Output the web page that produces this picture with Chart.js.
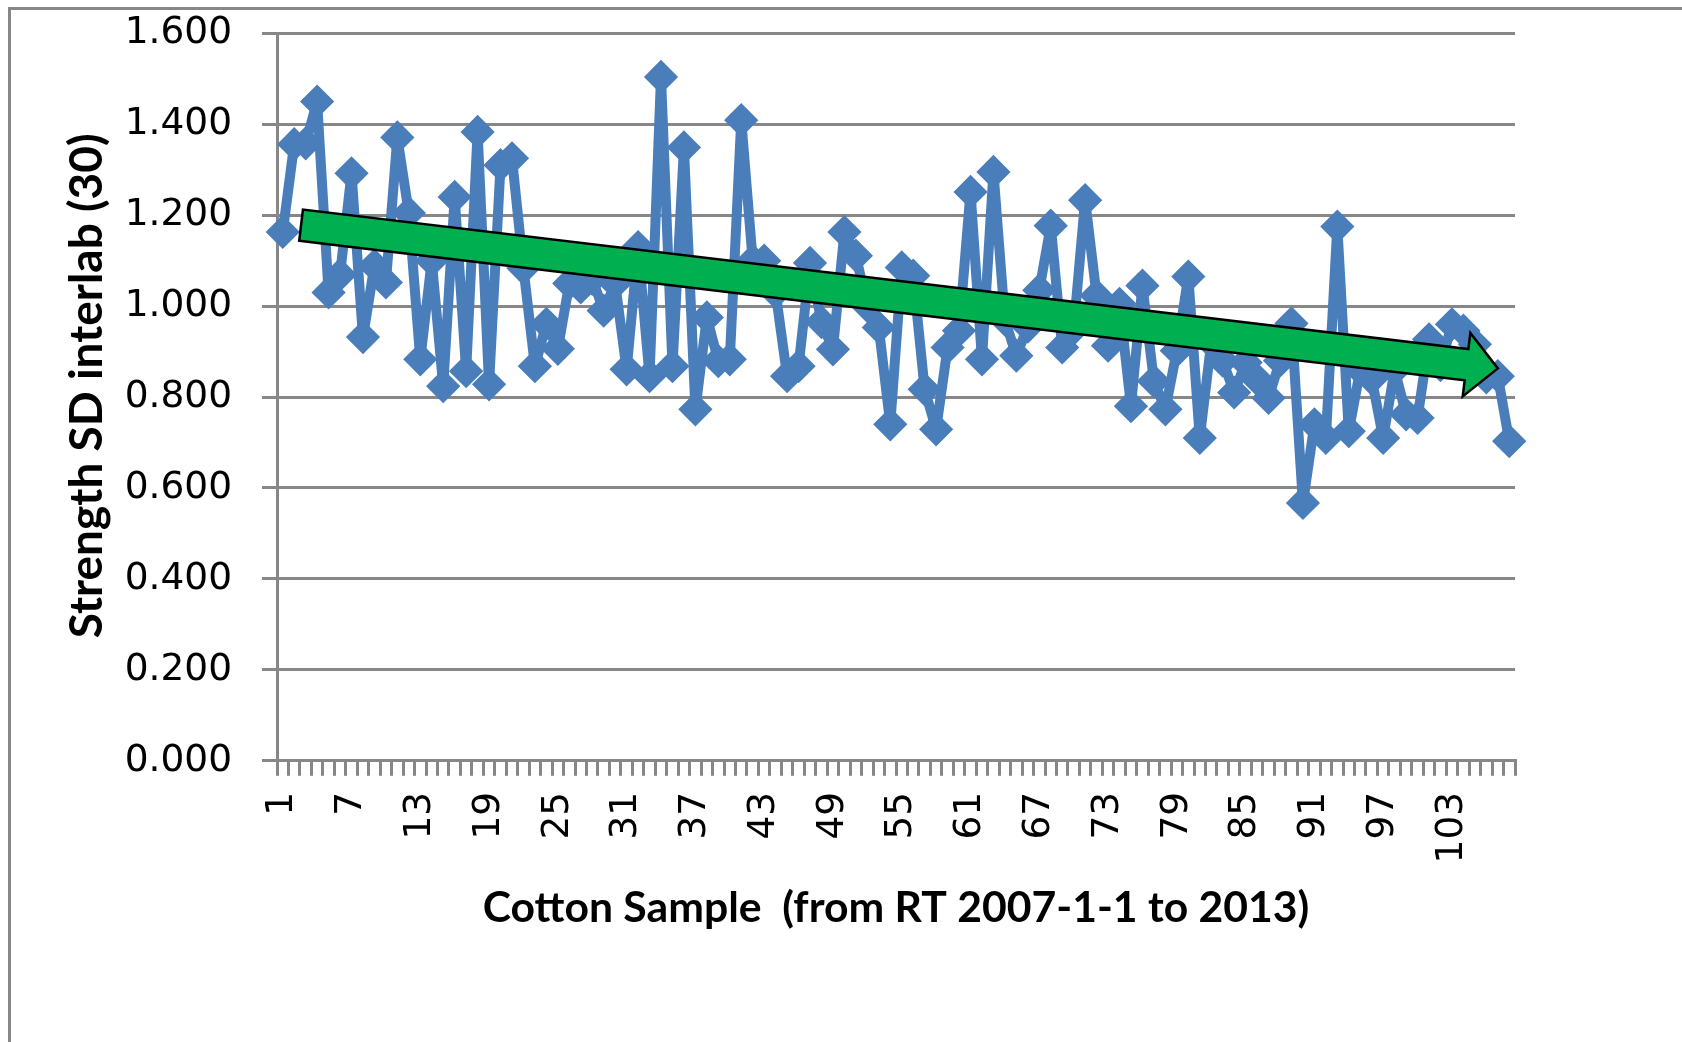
<!DOCTYPE html>
<html>
<head>
<meta charset="utf-8">
<script src="https://cdn.jsdelivr.net/npm/chart.js@4.4.1/dist/chart.umd.min.js"></script>
<style>
  html, body { margin: 0; padding: 0; background: #ffffff; }
  #wrap { position: relative; width: 1682px; height: 1042px; }
</style>
</head>
<body>
<div id="wrap"><canvas id="sdchart"></canvas></div>
<script>
// cotton samples, RT 2007-1-1 .. 2013
const samples = [
    '1','2','3','4','5','6','7','8','9','10','11','12',
    '13','14','15','16','17','18','19','20','21','22','23','24',
    '25','26','27','28','29','30','31','32','33','34','35','36',
    '37','38','39','40','41','42','43','44','45','46','47','48',
    '49','50','51','52','53','54','55','56','57','58','59','60',
    '61','62','63','64','65','66','67','68','69','70','71','72',
    '73','74','75','76','77','78','79','80','81','82','83','84',
    '85','86','87','88','89','90','91','92','93','94','95','96',
    '97','98','99','100','101','102','103','104','105','106','107','108'
];

// strength SD interlab (30)
const strengthSD = [
    1.163, 1.356, 1.358, 1.450, 1.030, 1.069, 1.292, 0.932, 1.089, 1.052, 1.371, 1.205,
    0.883, 1.100, 0.824, 1.240, 0.857, 1.383, 0.828, 1.310, 1.325, 1.083, 0.868, 0.961,
    0.906, 1.050, 1.041, 1.060, 0.990, 1.050, 0.861, 1.130, 0.846, 1.504, 0.868, 1.349,
    0.773, 0.975, 0.879, 0.883, 1.409, 1.100, 1.100, 1.030, 0.846, 0.868, 1.095, 0.965,
    0.905, 1.163, 1.111, 1.000, 0.953, 0.740, 1.085, 1.067, 0.817, 0.729, 0.909, 0.946,
    1.251, 0.883, 1.295, 0.970, 0.891, 0.955, 1.035, 1.177, 0.909, 0.950, 1.233, 1.023,
    0.913, 1.005, 0.780, 1.045, 0.835, 0.773, 0.902, 1.065, 0.710, 0.920, 0.880, 0.810,
    0.876, 0.839, 0.798, 0.880, 0.962, 0.567, 0.740, 0.710, 1.175, 0.725, 0.860, 0.840,
    0.710, 0.860, 0.762, 0.754, 0.927, 0.870, 0.960, 0.946, 0.916, 0.843, 0.846, 0.703
];

// only every 6th sample is labelled on the axis
const xTickLabels = ['1','7','13','19','25','31','37','43','49','55','61','67','73','79','85','91','97','103'];
const yTicks = [0, 0.2, 0.4, 0.6, 0.8, 1.0, 1.2, 1.4, 1.6];

// hand-drawn trend arrow, ends given in (sample index, value)
const trendArrow = { from: [1.6, 1.178], to: [106.0, 0.863] };

const GRID = '#878787';
const BLUE = '#4A7EBB';

const frameBorder = {
    id: 'frameBorder',
    beforeDraw(chart) {
        const c = chart.ctx;
        c.save();
        c.strokeStyle = GRID;
        c.lineWidth = 3;
        c.strokeRect(9.5, 8.5, chart.width + 50, chart.height + 50);
        c.restore();
    }
};

const arrowPlugin = {
    id: 'arrowPlugin',
    afterDatasetsDraw(chart) {
        const xs = chart.scales.x, ys = chart.scales.y;
        const x0 = xs.getPixelForValue(trendArrow.from[0]), y0 = ys.getPixelForValue(trendArrow.from[1]);
        const x1 = xs.getPixelForValue(trendArrow.to[0]), y1 = ys.getPixelForValue(trendArrow.to[1]);
        const len = Math.hypot(x1 - x0, y1 - y0);
        const ux = (x1 - x0) / len, uy = (y1 - y0) / len;
        const nx = -uy, ny = ux;
        const shaft = 15.7, head = 32, headLen = 31.5;
        const bx = x1 - ux * headLen, by = y1 - uy * headLen;
        const c = chart.ctx;
        c.save();
        c.beginPath();
        c.moveTo(x0 + nx * shaft, y0 + ny * shaft);
        c.lineTo(bx + nx * shaft, by + ny * shaft);
        c.lineTo(bx + nx * head, by + ny * head);
        c.lineTo(x1, y1);
        c.lineTo(bx - nx * head, by - ny * head);
        c.lineTo(bx - nx * shaft, by - ny * shaft);
        c.lineTo(x0 - nx * shaft, y0 - ny * shaft);
        c.closePath();
        c.fillStyle = '#00B050';
        c.fill();
        c.lineWidth = 2.5;
        c.lineJoin = 'miter';
        c.strokeStyle = '#000000';
        c.stroke();
        c.restore();
    }
};

const ctx = document.getElementById('sdchart').getContext('2d');
const sdChart = new Chart(ctx, {
    type: 'line',
    data: {
        labels: samples,
        datasets: [{
            label: 'Strength SD interlab (30)',
            data: strengthSD,
            borderColor: BLUE,
            backgroundColor: BLUE,
            borderWidth: 10,
            borderJoinStyle: 'round',
            tension: 0,
            pointStyle: 'rectRot',
            pointRadius: 15,
            pointBorderWidth: 3,
            pointBackgroundColor: BLUE,
            pointBorderColor: BLUE
        }]
    },
    options: {
        responsive: true,
        maintainAspectRatio: false,
        animation: false,
        layout: { padding: { left: 0, top: 33.3, right: 167, bottom: 0 } },
        plugins: {
            legend: { display: false },
            tooltip: { enabled: false }
        },
        scales: {
            x: {
                offset: true,
                afterFit: s => { s.height = 281.2; },
                border: { display: true, color: GRID, width: 3 },
                grid: {
                    offset: true,
                    drawOnChartArea: false,
                    drawTicks: true,
                    tickLength: 15,
                    color: GRID,
                    lineWidth: 3
                },
                ticks: {
                    autoSkip: false,
                    maxRotation: 90,
                    minRotation: 90,
                    padding: 16,
                    color: '#000000',
                    font: { family: 'DejaVu Sans', size: 37.5 },
                    callback: function (v, i) {
                        const lab = this.getLabelForValue(v);
                        return xTickLabels.includes(lab) ? lab : '';
                    }
                },
                title: {
                    display: true,
                    text: 'Cotton Sample  (from RT 2007-1-1 to 2013)',
                    color: '#000000',
                    font: { family: 'Lato, sans-serif', size: 42.7, weight: 'bold', lineHeight: 1.2 },
                    padding: { top: 0, bottom: 108 }
                }
            },
            y: {
                min: 0,
                max: 1.6,
                afterFit: s => {
                    s.width = 277;
                    // tick padding should not push the plot area down
                    s.paddingTop = 0;
                    s.paddingBottom = 0;
                },
                afterBuildTicks: s => { s.ticks = yTicks.map(v => ({ value: v })); },
                border: { display: true, color: GRID, width: 3 },
                grid: {
                    color: GRID,
                    lineWidth: 3,
                    tickLength: 15
                },
                ticks: {
                    padding: 30,
                    color: '#000000',
                    font: { family: 'DejaVu Sans', size: 37.5 },
                    callback: v => v.toFixed(3)
                },
                title: {
                    display: true,
                    text: '  Strength SD interlab (30)',
                    color: '#000000',
                    font: { family: 'Lato, sans-serif', size: 46, weight: 'bold', lineHeight: 1.2 },
                    padding: { top: 60, bottom: 0 }
                }
            }
        }
    },
    plugins: [frameBorder, arrowPlugin]
});
</script>
</body>
</html>
